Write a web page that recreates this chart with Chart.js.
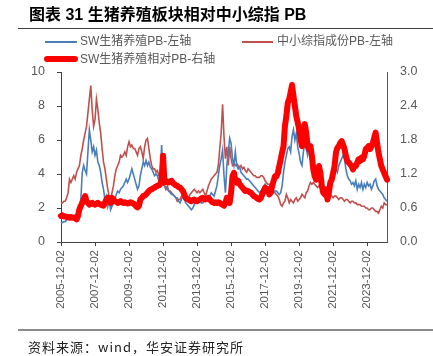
<!DOCTYPE html>
<html>
<head>
<meta charset="utf-8">
<script src="https://cdn.jsdelivr.net/npm/chart.js@4.4.1/dist/chart.umd.min.js"></script>
<style>
  html, body { margin: 0; padding: 0; background: #fff; }
  #wrap { position: relative; width: 433px; height: 356px; overflow: hidden; background: #fff; }
  #c { position: absolute; left: 0; top: 0; }
  .abs { position: absolute; white-space: nowrap; }
  #title { left: 29px; top: 5px; font: bold 16px "Liberation Sans", "Noto Sans CJK SC", sans-serif; color: #000; line-height: 20px; }
  #tline { left: 18px; top: 28px; width: 415px; height: 1px; background: #404040; }
  #sline { left: 18px; top: 329px; width: 415px; height: 1.5px; background: #8c8c8c; }
  #src { left: 28px; top: 338px; font: 13px "Noto Sans CJK SC", sans-serif; color: #222; letter-spacing: 1px; line-height: 18px; }
  .lg { font: 12px "Liberation Sans", "Noto Sans CJK SC", sans-serif; color: #595959; line-height: 16px; }
  .sw { position: absolute; }
</style>
</head>
<body>
<div id="wrap">
  <canvas id="c" width="433" height="356"></canvas>
  <div id="title" class="abs">图表 31 生猪养殖板块相对中小综指 PB</div>
  <div id="tline" class="abs"></div>
  <div class="sw" id="sw0" style="left:45px; top:41px; width:32px; height:2px; background:#4a7ebb;"></div>
  <div class="abs lg" id="lt0" style="left:80px; top:33px;"></div>
  <div class="sw" id="sw1" style="left:242px; top:41px; width:31px; height:2px; background:#c0504d;"></div>
  <div class="abs lg" id="lt1" style="left:277px; top:33px;"></div>
  <div class="sw" id="sw2" style="left:44px; top:56px; width:34px; height:6px; border-radius:3px; background:#ff0000;"></div>
  <div class="abs lg" id="lt2" style="left:80px; top:51px;"></div>
  <div id="sline" class="abs"></div>
  <div id="src" class="abs">资料来源：wind，华安证券研究所</div>
</div>
<script>
// ---- data (monthly, 2005-12 .. 2025-02) ----
const seriesNames = ['SW生猪养殖PB-左轴', '中小综指成份PB-左轴', 'SW生猪养殖相对PB-右轴'];

const startYear = 2005, startMonth = 12, monthCount = 231;
const categories = [];
for (let i = 0; i < monthCount; i++) {
  const t = (startMonth - 1) + i;
  const y = startYear + Math.floor(t / 12);
  const m = (t % 12) + 1;
  categories.push(y + '-' + String(m).padStart(2, '0') + '-02');
}

const tickLabels = ['2005-12-02','2007-12-02','2009-12-02','2011-12-02','2013-12-02',
                    '2015-12-02','2017-12-02','2019-12-02','2021-12-02','2023-12-02'];

const pigPB = [
1.1,1.15,1.2,1.2,1.3,1.35,1.4,1.45,1.5,1.5,1.6,1.6,
1.7,2.0,2.5,4.1,4.5,4.2,4.0,5.3,6.6,6.0,5.3,5.6,
5.1,5.4,4.7,4.5,4.1,3.5,3.1,2.5,2.7,2.1,2.5,1.9,
2.1,2.3,2.5,2.8,3.0,2.9,3.1,3.2,3.3,3.5,3.7,3.5,
3.7,4.0,4.3,4.0,3.7,3.4,3.1,3.3,3.9,4.3,4.7,4.5,
4.8,4.5,4.7,4.4,4.3,4.1,3.9,4.0,3.9,3.6,3.9,5.7,
3.5,3.3,3.2,3.1,3.0,2.9,2.8,2.8,2.7,2.6,2.6,2.4,
2.3,2.5,2.7,2.5,2.3,2.2,2.1,2.0,1.9,2.0,2.2,2.3,
2.3,2.4,2.4,2.3,2.3,2.4,2.5,2.5,2.6,2.7,2.9,2.8,
2.7,3.0,3.3,3.9,4.5,4.9,5.4,3.9,2.9,4.5,5.3,6.1,
5.8,4.9,4.5,5.3,4.5,4.3,4.4,4.1,4.0,3.9,3.8,3.7,
3.7,3.6,3.5,3.4,3.3,3.2,3.1,3.0,2.9,3.0,3.1,3.2,
3.4,3.2,3.1,3.0,3.0,2.9,2.9,3.0,3.0,2.9,2.8,2.9,
3.3,4.1,4.7,5.1,5.5,5.6,5.3,6.2,6.6,6.0,6.4,5.6,
5.2,4.7,4.5,5.3,5.8,5.5,5.1,5.5,4.9,5.5,4.7,4.5,
4.1,3.9,4.3,4.1,3.6,3.3,3.2,3.1,3.0,2.9,3.3,3.7,
4.1,3.9,4.3,4.1,4.5,4.7,4.9,5.1,4.9,4.3,3.9,3.7,
3.6,3.4,3.5,3.3,3.6,3.1,3.4,3.2,3.5,3.1,3.4,3.2,
3.5,3.3,3.4,3.1,3.3,3.6,3.7,3.3,3.1,3.0,2.9,2.8,
2.6,2.5,2.4
];

const smallCapPB = [
2.3,2.3,2.4,2.4,2.6,2.9,3.7,3.5,3.7,3.9,3.7,4.1,
4.3,4.5,5.1,5.5,6.0,6.4,6.8,7.6,8.4,9.2,7.8,6.8,
7.2,8.4,7.8,7.0,6.4,5.5,4.7,4.3,3.7,3.1,2.7,2.5,
2.9,3.3,3.9,4.3,4.5,4.7,5.1,5.0,5.1,5.3,5.1,5.6,
5.9,5.6,5.7,5.5,5.5,5.3,5.1,5.5,5.6,5.3,4.9,5.6,
6.0,6.1,5.5,4.9,4.5,4.3,4.3,4.1,4.2,3.9,3.9,3.7,
3.5,3.3,3.1,3.3,3.0,3.0,2.9,2.8,2.7,2.6,2.4,2.5,
2.5,2.7,2.8,2.7,2.6,2.6,2.6,2.8,2.9,3.0,3.1,3.0,
2.9,3.0,2.9,3.0,3.1,2.9,2.7,3.0,3.3,3.5,3.7,3.8,
3.9,4.0,4.1,4.5,5.5,6.4,8.1,6.2,4.9,5.6,4.5,5.6,
4.9,4.5,4.6,4.5,4.6,4.5,4.4,4.5,4.3,4.4,4.2,4.1,
4.3,4.2,4.1,4.0,3.9,3.9,3.8,3.8,3.8,3.9,3.9,3.8,
3.6,3.5,3.4,3.4,3.3,3.2,3.0,2.9,2.8,2.7,2.5,2.2,
2.1,2.3,2.4,2.8,2.6,2.3,2.5,2.4,2.3,2.5,2.6,2.4,
2.5,2.6,2.8,2.7,2.6,2.9,3.0,3.3,3.5,3.4,3.5,3.4,
3.3,3.2,3.3,3.2,3.1,3.1,3.0,3.0,2.9,2.9,2.8,2.7,
2.6,2.7,2.7,2.6,2.5,2.6,2.6,2.5,2.4,2.5,2.5,2.4,
2.3,2.4,2.4,2.3,2.3,2.2,2.2,2.2,2.1,2.1,2.1,2.0,
2.0,1.9,1.9,2.0,2.0,1.9,1.8,1.8,1.7,1.9,2.1,2.0,
2.3,2.2,2.2
];

const relativePB = [
0.46,0.47,0.45,0.45,0.44,0.44,0.43,0.44,0.43,0.43,0.42,0.40,
0.46,0.58,0.64,0.69,0.75,0.81,0.72,0.69,0.66,0.68,0.69,0.67,
0.66,0.68,0.69,0.67,0.66,0.65,0.64,0.69,0.75,0.78,0.75,0.69,
0.78,0.75,0.72,0.71,0.69,0.70,0.72,0.70,0.69,0.70,0.69,0.68,
0.69,0.70,0.69,0.68,0.66,0.63,0.61,0.64,0.75,0.78,0.81,0.82,
0.84,0.87,0.90,0.92,0.93,0.95,0.96,0.98,0.99,1.00,1.02,1.10,
1.52,1.05,1.08,1.06,1.05,1.07,1.08,1.04,1.02,1.00,0.99,0.97,
0.96,0.93,0.90,0.84,0.78,0.76,0.75,0.73,0.72,0.74,0.75,0.73,
0.72,0.74,0.75,0.77,0.78,0.76,0.75,0.77,0.78,0.75,0.72,0.70,
0.69,0.70,0.69,0.70,0.69,0.67,0.66,0.64,0.69,0.78,0.75,0.69,
0.87,1.16,1.22,1.08,1.05,1.08,1.02,0.99,0.96,0.93,0.90,0.91,
0.90,0.88,0.87,0.84,0.81,0.80,0.78,0.76,0.75,0.78,0.84,0.90,
0.96,0.90,0.93,0.84,0.87,0.99,1.08,1.16,1.16,1.22,1.34,1.46,
1.58,1.69,2.05,2.22,2.46,2.52,2.64,2.77,2.58,2.40,2.22,2.11,
1.99,1.81,1.69,1.99,2.08,1.93,1.69,1.64,1.69,1.52,1.28,1.16,
1.10,1.16,1.34,1.22,0.99,0.87,0.84,0.93,0.75,0.87,1.05,1.10,
1.22,1.34,1.58,1.66,1.69,1.75,1.78,1.72,1.64,1.52,1.43,1.40,
1.37,1.34,1.28,1.34,1.34,1.40,1.46,1.43,1.49,1.46,1.52,1.64,
1.66,1.69,1.64,1.69,1.75,1.84,1.93,1.75,1.58,1.46,1.34,1.28,
1.22,1.16,1.10
];

const leftTicks = [0, 2, 4, 6, 8, 10];
const rightTicks = [0.0, 0.6, 1.2, 1.8, 2.4, 3.0];

document.getElementById('lt0').textContent = seriesNames[0];
document.getElementById('lt1').textContent = seriesNames[1];
document.getElementById('lt2').textContent = seriesNames[2];

const axisColor = '#404040';
const labelColor = '#595959';
const isLabeled = (lbl) => tickLabels.indexOf(lbl) !== -1;

new Chart(document.getElementById('c'), {
  type: 'line',
  data: {
    labels: categories,
    datasets: [
      { label: seriesNames[2], data: relativePB, yAxisID: 'y1', borderColor: '#ff0000',
        borderWidth: 6, pointRadius: 0, tension: 0, order: 0, borderCapStyle: 'round', borderJoinStyle: 'round' },
      { label: seriesNames[0], data: pigPB, yAxisID: 'y', borderColor: '#4a7ebb',
        borderWidth: 1.6, pointRadius: 0, tension: 0, order: 1 },
      { label: seriesNames[1], data: smallCapPB, yAxisID: 'y', borderColor: '#c0504d',
        borderWidth: 1.6, pointRadius: 0, tension: 0, order: 2 }
    ]
  },
  options: {
    responsive: false,
    animation: false,
    devicePixelRatio: 1,
    layout: { padding: { left: 0, right: 0, top: 72, bottom: 34 } },
    plugins: { legend: { display: false }, tooltip: { enabled: false } },
    scales: {
      x: {
        type: 'category',
        offset: false,
        afterFit: (s) => { s.height = 80; },
        border: { display: true, color: axisColor, width: 1 },
        grid: {
          drawOnChartArea: false, drawTicks: true, tickLength: 4,
          color: axisColor,
          tickColor: (ctx) => (ctx.tick && isLabeled(categories[ctx.tick.value])) ? axisColor : 'rgba(0,0,0,0)'
        },
        ticks: {
          autoSkip: false, minRotation: 90, maxRotation: 90, padding: 4,
          color: labelColor, font: { family: 'Liberation Sans', size: 11.5 },
          callback: function (v, i) { const l = categories[i]; return isLabeled(l) ? l : null; }
        }
      },
      y: {
        position: 'left', min: 0, max: 10,
        afterFit: (s) => { s.width = 61; },
        afterBuildTicks: (s) => { s.ticks = leftTicks.map(v => ({ value: v })); },
        border: { display: true, color: axisColor, width: 1 },
        grid: { drawOnChartArea: false, drawTicks: true, tickLength: 4, color: axisColor },
        ticks: { padding: 12, color: labelColor, font: { family: 'Liberation Sans', size: 12.5 },
                 callback: (v) => String(v) }
      },
      y1: {
        position: 'right', min: 0, max: 3,
        afterFit: (s) => { s.width = 46; },
        afterBuildTicks: (s) => { s.ticks = rightTicks.map(v => ({ value: v })); },
        border: { display: true, color: '#595959', width: 1 },
        grid: { drawOnChartArea: false, drawTicks: false },
        ticks: { padding: 13, color: labelColor, font: { family: 'Liberation Sans', size: 12.5 },
                 callback: (v) => Number(v).toFixed(1) }
      }
    }
  }
});
</script>
</body>
</html>
